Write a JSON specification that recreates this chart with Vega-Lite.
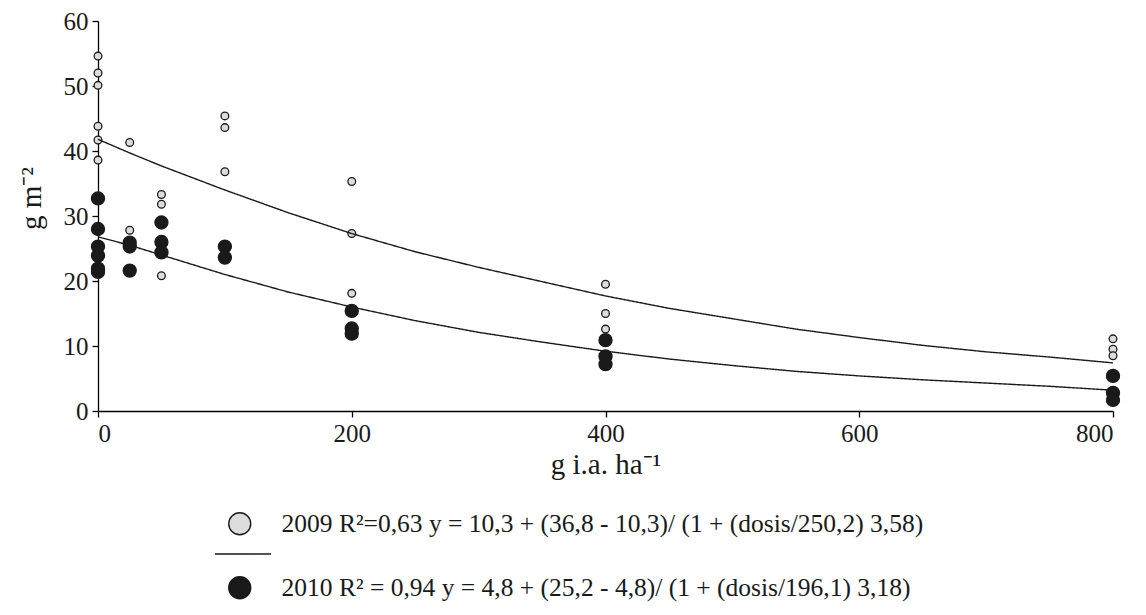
{
  "$schema": "https://vega.github.io/schema/vega-lite/v6.json",
  "width": 1015,
  "height": 390,
  "autosize": {"type": "none"},
  "padding": {"left": 98, "top": 21, "right": 33, "bottom": 204},
  "background": "white",
  "config": {
    "view": {"stroke": null},
    "font": "Liberation Serif",
    "axis": {
      "grid": false,
      "domainColor": "black",
      "domainWidth": 1.3,
      "tickColor": "black",
      "tickWidth": 1.3,
      "tickSize": 6,
      "labelFont": "Liberation Serif",
      "labelFontSize": 25,
      "labelColor": "#1a1a1a",
      "labelPadding": 4,
      "titleFont": "Liberation Serif",
      "titleFontSize": 29,
      "titleFontWeight": "normal",
      "titleColor": "#1a1a1a"
    },
    "legend": {
      "labelFont": "Liberation Serif",
      "labelFontSize": 25.5,
      "labelColor": "#1a1a1a",
      "labelLimit": 0,
      "symbolStrokeColor": "#1a1a1a",
      "symbolStrokeWidth": 1.4
    }
  },
  "datasets": {
    "pts": [
      {"dosis": 0, "biomasa": 54.6, "year": "2009"},
      {"dosis": 0, "biomasa": 52.0, "year": "2009"},
      {"dosis": 0, "biomasa": 50.1, "year": "2009"},
      {"dosis": 0, "biomasa": 43.8, "year": "2009"},
      {"dosis": 0, "biomasa": 41.7, "year": "2009"},
      {"dosis": 0, "biomasa": 38.6, "year": "2009"},
      {"dosis": 25, "biomasa": 41.3, "year": "2009"},
      {"dosis": 25, "biomasa": 27.8, "year": "2009"},
      {"dosis": 50, "biomasa": 33.3, "year": "2009"},
      {"dosis": 50, "biomasa": 31.8, "year": "2009"},
      {"dosis": 50, "biomasa": 20.8, "year": "2009"},
      {"dosis": 100, "biomasa": 45.4, "year": "2009"},
      {"dosis": 100, "biomasa": 43.6, "year": "2009"},
      {"dosis": 100, "biomasa": 36.8, "year": "2009"},
      {"dosis": 200, "biomasa": 35.3, "year": "2009"},
      {"dosis": 200, "biomasa": 27.3, "year": "2009"},
      {"dosis": 200, "biomasa": 18.1, "year": "2009"},
      {"dosis": 400, "biomasa": 19.5, "year": "2009"},
      {"dosis": 400, "biomasa": 15.0, "year": "2009"},
      {"dosis": 400, "biomasa": 12.6, "year": "2009"},
      {"dosis": 800, "biomasa": 11.1, "year": "2009"},
      {"dosis": 800, "biomasa": 9.5, "year": "2009"},
      {"dosis": 800, "biomasa": 8.5, "year": "2009"},
      {"dosis": 0, "biomasa": 32.7, "year": "2010"},
      {"dosis": 0, "biomasa": 28.0, "year": "2010"},
      {"dosis": 0, "biomasa": 25.3, "year": "2010"},
      {"dosis": 0, "biomasa": 23.9, "year": "2010"},
      {"dosis": 0, "biomasa": 21.9, "year": "2010"},
      {"dosis": 0, "biomasa": 21.4, "year": "2010"},
      {"dosis": 25, "biomasa": 25.9, "year": "2010"},
      {"dosis": 25, "biomasa": 25.3, "year": "2010"},
      {"dosis": 25, "biomasa": 21.6, "year": "2010"},
      {"dosis": 50, "biomasa": 29.0, "year": "2010"},
      {"dosis": 50, "biomasa": 26.0, "year": "2010"},
      {"dosis": 50, "biomasa": 24.4, "year": "2010"},
      {"dosis": 100, "biomasa": 25.3, "year": "2010"},
      {"dosis": 100, "biomasa": 23.6, "year": "2010"},
      {"dosis": 200, "biomasa": 15.4, "year": "2010"},
      {"dosis": 200, "biomasa": 12.7, "year": "2010"},
      {"dosis": 200, "biomasa": 11.9, "year": "2010"},
      {"dosis": 400, "biomasa": 10.9, "year": "2010"},
      {"dosis": 400, "biomasa": 8.4, "year": "2010"},
      {"dosis": 400, "biomasa": 7.2, "year": "2010"},
      {"dosis": 800, "biomasa": 5.4, "year": "2010"},
      {"dosis": 800, "biomasa": 2.8, "year": "2010"},
      {"dosis": 800, "biomasa": 1.7, "year": "2010"}
    ],
    "fit": [
      {"dosis": 0, "ajuste": 41.8, "curva": "2009"},
      {"dosis": 25, "ajuste": 39.7, "curva": "2009"},
      {"dosis": 50, "ajuste": 37.7, "curva": "2009"},
      {"dosis": 100, "ajuste": 34.0, "curva": "2009"},
      {"dosis": 150, "ajuste": 30.5, "curva": "2009"},
      {"dosis": 200, "ajuste": 27.3, "curva": "2009"},
      {"dosis": 250, "ajuste": 24.5, "curva": "2009"},
      {"dosis": 300, "ajuste": 22.1, "curva": "2009"},
      {"dosis": 350, "ajuste": 19.9, "curva": "2009"},
      {"dosis": 400, "ajuste": 17.7, "curva": "2009"},
      {"dosis": 450, "ajuste": 15.8, "curva": "2009"},
      {"dosis": 500, "ajuste": 14.2, "curva": "2009"},
      {"dosis": 550, "ajuste": 12.6, "curva": "2009"},
      {"dosis": 600, "ajuste": 11.3, "curva": "2009"},
      {"dosis": 650, "ajuste": 10.1, "curva": "2009"},
      {"dosis": 700, "ajuste": 9.1, "curva": "2009"},
      {"dosis": 750, "ajuste": 8.3, "curva": "2009"},
      {"dosis": 800, "ajuste": 7.4, "curva": "2009"},
      {"dosis": 0, "ajuste": 26.8, "curva": "2010"},
      {"dosis": 25, "ajuste": 25.5, "curva": "2010"},
      {"dosis": 50, "ajuste": 24.0, "curva": "2010"},
      {"dosis": 100, "ajuste": 21.0, "curva": "2010"},
      {"dosis": 150, "ajuste": 18.3, "curva": "2010"},
      {"dosis": 200, "ajuste": 16.0, "curva": "2010"},
      {"dosis": 250, "ajuste": 13.9, "curva": "2010"},
      {"dosis": 300, "ajuste": 12.1, "curva": "2010"},
      {"dosis": 350, "ajuste": 10.6, "curva": "2010"},
      {"dosis": 400, "ajuste": 9.2, "curva": "2010"},
      {"dosis": 450, "ajuste": 8.0, "curva": "2010"},
      {"dosis": 500, "ajuste": 7.0, "curva": "2010"},
      {"dosis": 550, "ajuste": 6.1, "curva": "2010"},
      {"dosis": 600, "ajuste": 5.4, "curva": "2010"},
      {"dosis": 650, "ajuste": 4.8, "curva": "2010"},
      {"dosis": 700, "ajuste": 4.3, "curva": "2010"},
      {"dosis": 750, "ajuste": 3.8, "curva": "2010"},
      {"dosis": 800, "ajuste": 3.2, "curva": "2010"}
    ]
  },
  "layer": [
    {
      "data": {"name": "pts"},
      "mark": {"type": "point", "shape": "circle", "filled": true, "stroke": "#1a1a1a", "strokeWidth": 1.3, "opacity": 1},
      "encoding": {
        "x": {
          "field": "dosis", "type": "quantitative",
          "scale": {"domain": [0, 800], "nice": false},
          "axis": {"values": [0, 200, 400, 600, 800], "title": "g i.a. ha⁻¹", "titlePadding": 4}
        },
        "y": {
          "field": "biomasa", "type": "quantitative",
          "scale": {"domain": [0, 60], "nice": false},
          "axis": {"values": [0, 10, 20, 30, 40, 50, 60], "title": "g m⁻²", "titleX": -52, "titleY": 177}
        },
        "fill": {
          "field": "year", "type": "nominal",
          "scale": {"domain": ["2009", "2010"], "range": ["#dcdcdc", "#1a1a1a"]},
          "legend": {
            "title": null,
            "orient": "none",
            "legendX": 129,
            "legendY": 490,
            "padding": 0,
            "rowPadding": 35,
            "symbolSize": 484,
            "labelOffset": 29,
            "labelExpr": "datum.label == '2009' ? '2009 R²=0,63 y = 10,3 + (36,8 - 10,3)/ (1 + (dosis/250,2) 3,58)' : '2010 R² = 0,94 y = 4,8 + (25,2 - 4,8)/ (1 + (dosis/196,1) 3,18)'"
          }
        },
        "size": {
          "condition": {"test": "datum.year == '2010'", "value": 170},
          "value": 60
        }
      }
    },
    {
      "data": {"name": "fit"},
      "mark": {"type": "line", "stroke": "#1a1a1a", "strokeWidth": 1.4, "interpolate": "linear"},
      "encoding": {
        "x": {"field": "dosis", "type": "quantitative"},
        "y": {"field": "ajuste", "type": "quantitative"},
        "detail": {"field": "curva"},
        "strokeDash": {
          "datum": "ajuste",
          "scale": {"domain": ["ajuste"], "range": [[1, 0]]},
          "legend": {
            "title": null,
            "orient": "none",
            "legendX": 116,
            "legendY": 504,
            "padding": 0,
            "symbolType": "stroke",
            "symbolSize": 3136,
            "labelExpr": "''"
          }
        }
      }
    }
  ]
}
